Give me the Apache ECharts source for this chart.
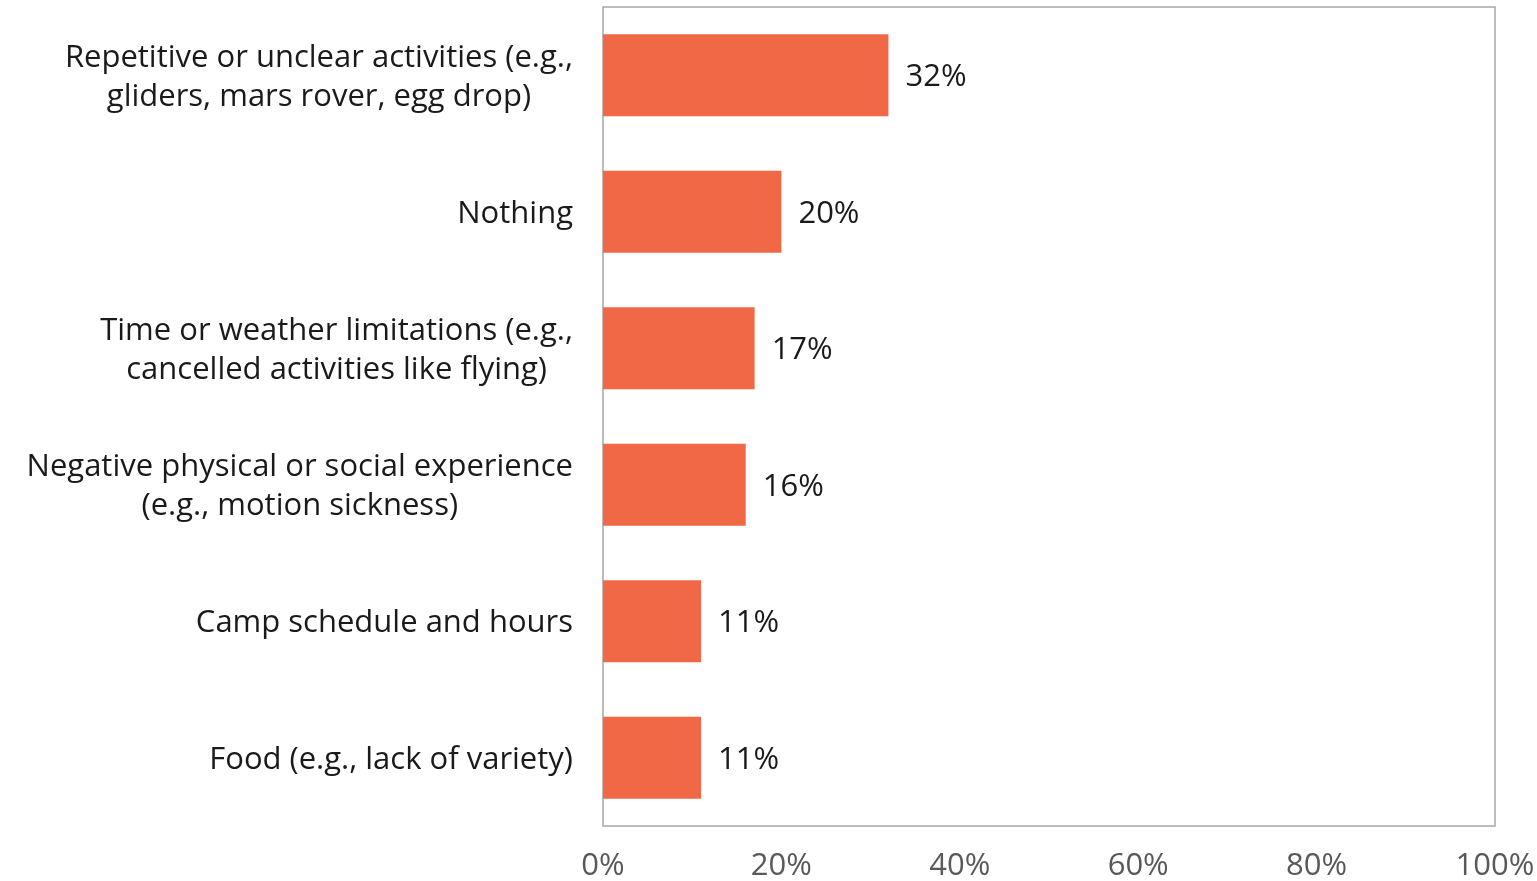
<!DOCTYPE html>
<html>
<head>
<meta charset="utf-8">
<style>
  html, body { margin: 0; padding: 0; background: #ffffff; }
  #chart { width: 1537px; height: 881px; }
</style>
<script src="https://cdn.jsdelivr.net/npm/echarts@6/dist/echarts.min.js"></script>
</head>
<body>
<div id="chart"></div>
<script>
// Survey responses: what campers liked least
const categories = [
  'Repetitive or unclear activities (e.g.,\ngliders, mars rover, egg drop)',
  'Nothing',
  'Time or weather limitations (e.g.,\ncancelled activities like flying)',
  'Negative physical or social experience\n(e.g., motion sickness)',
  'Camp schedule and hours',
  'Food (e.g., lack of variety)'
];
const shares = [32, 20, 17, 16, 11, 11];
const tickValues = [0, 20, 40, 60, 80, 100];

const FONT = '"Open Sans", Lato, sans-serif';
const SIZE = 31;

const chart = echarts.init(document.getElementById('chart'), null, { renderer: 'canvas' });
chart.setOption({
  animation: false,
  backgroundColor: '#ffffff',
  grid: {
    left: 603, right: 42, top: 7, bottom: 55,
    show: true, borderColor: '#A6A6A6', borderWidth: 1.5,
    containLabel: false,
    outerBoundsMode: 'none'
  },
  xAxis: {
    type: 'value',
    min: tickValues[0],
    max: tickValues[tickValues.length - 1],
    interval: 20,
    splitLine: { show: false },
    axisLine: { show: false },
    axisTick: { show: false },
    axisLabel: {
      margin: 25,
      color: '#595959',
      fontSize: SIZE,
      fontFamily: FONT,
      formatter: v => v + '%'
    }
  },
  yAxis: {
    type: 'category',
    inverse: true,
    data: categories,
    axisLine: { show: false },
    axisTick: { show: false },
    axisLabel: {
      margin: 30,
      color: '#1a1a1a',
      fontSize: SIZE,
      fontFamily: FONT,
      lineHeight: 39,
      padding: [4, 0, 0, 0],
      formatter: v => v.split('\n').map(l => '{c|' + l + '}').join('\n'),
      rich: {
        c: { align: 'center', fontSize: SIZE, fontFamily: FONT, color: '#1a1a1a', lineHeight: 39 }
      }
    }
  },
  series: [{
    type: 'bar',
    data: shares,
    barCategoryGap: '40%',
    itemStyle: { color: '#F06846' },
    label: {
      show: true,
      position: 'right',
      distance: 17,
      offset: [0, 2],
      color: '#1a1a1a',
      fontSize: SIZE,
      fontFamily: FONT,
      formatter: p => p.value + '%'
    }
  }]
});
</script>
</body>
</html>
